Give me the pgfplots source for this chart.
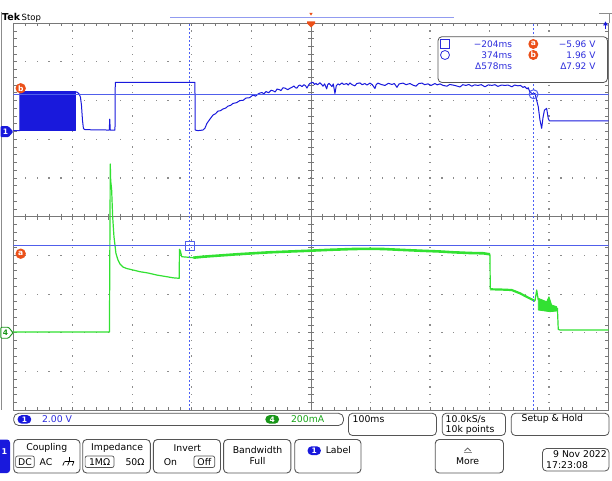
\documentclass[border=0pt]{standalone}
\usepackage{pgfplots}
\pgfplotsset{compat=1.18}
\usepackage{fontspec}
\setmainfont{DejaVu Sans}
\newcommand{\fs}[1]{\fontsize{#1}{#1}\selectfont}
\definecolor{tekblue}{RGB}{25,25,220}
\definecolor{cursblue}{RGB}{80,95,235}
\definecolor{cursdot}{RGB}{75,95,245}
\definecolor{txtblue}{RGB}{45,45,220}
\definecolor{tekgreen}{RGB}{50,225,50}
\definecolor{txtgreen}{RGB}{25,165,25}
\definecolor{pillgreen}{RGB}{25,150,25}
\definecolor{tekorange}{RGB}{235,80,25}
\definecolor{gridc}{RGB}{140,140,140}
\definecolor{borderc}{RGB}{120,120,120}
\definecolor{btnc}{RGB}{85,85,85}
\definecolor{barblue}{RGB}{145,155,240}
\begin{document}
\begin{tikzpicture}[x=1pt,y=1pt]
\useasboundingbox (0,0) rectangle (612,480);
\clip (0,0) rectangle (612,480);
\fill[white] (0,0) rectangle (612,480);
% ---------- graticule (pixel coordinates, y downwards)
\begin{scope}[shift={(0pt,480pt)},y=-1pt]
\foreach \k in {1,2,3,4,6,7,8,9} {
  \foreach \j in {0,...,50} {
    \fill[gridc] ({13.3+59.53*\k-0.6},{23.2+7.74*\j-0.6}) rectangle ++(1.2,1.2);
  }
  \foreach \j in {0,...,50} {
    \fill[gridc] ({13.3+11.906*\j-0.6},{23.2+38.7*\k-0.6}) rectangle ++(1.2,1.2);
  }
}
\draw[borderc, line width=0.8pt] (311,23.2) -- (311,410.2);
\draw[borderc, line width=0.8pt] (13.3,216.7) -- (608.6,216.7);
\foreach \j in {1,...,49} {
  \draw[borderc, line width=0.8pt] (308,{23.2+7.74*\j}) -- (314,{23.2+7.74*\j});
  \draw[borderc, line width=0.8pt] ({13.3+11.906*\j},213.7) -- ({13.3+11.906*\j},219.7);
  \draw[borderc, line width=0.8pt] (13.3,{23.2+7.74*\j}) -- (16.5,{23.2+7.74*\j});
  \draw[borderc, line width=0.8pt] (608.6,{23.2+7.74*\j}) -- (605.4,{23.2+7.74*\j});
  \draw[borderc, line width=0.8pt] ({13.3+11.906*\j},23.2) -- ({13.3+11.906*\j},26.4);
  \draw[borderc, line width=0.8pt] ({13.3+11.906*\j},410.2) -- ({13.3+11.906*\j},407);
}
\draw[borderc, line width=0.8pt] (13.3,23.2) rectangle (608.6,410.2);
\end{scope}
% ---------- channel 4 (mA)
\begin{axis}[at={(13.3pt,69.8pt)}, anchor=south west, scale only axis,
  width=595.3pt, height=387pt, hide axis,
  xmin=-500, xmax=500, ymin=-408.35, ymax=1612.5,
  every axis plot/.append style={line join=round, mark=none}]
\addplot[tekgreen, line width=1.2pt] coordinates {
(-500,0)(-338.5,0)(-337.1,877.3)(-336.4,790)(-335.6,767.6)(-334.8,741.5)(-333.1,602.1)
(-330.9,497.6)(-327.6,410.9)(-324.2,376)(-320.8,355.1)(-315.8,339.4)(-309.6,331.6)
(-299,323.8)(-287.2,314.9)(-273.8,308.1)(-259.2,297.6)(-242.4,288.8)(-231.8,283)
(-221.3,280.4)(-220.9,431.8)(-219.2,423)(-217.2,393.2)(-197.7,388)};
\addplot[tekgreen, line width=2.6pt] coordinates {
(-197.7,388)(-180.9,393.2)(-152.9,399.5)(-124.8,405.7)(-97.4,411)(-68.9,416.2)
(-35.3,420.4)(-1.7,424.5)(31.9,429.2)(71.1,433.4)(99.1,434.5)(121.4,433.4)
(149.5,429.2)(183.1,424.5)(216.7,420.4)(239,416.2)(267.1,412.5)(289.4,411)(300.7,405.7)};
\addplot[tekgreen, line width=1.2pt] coordinates {(300.7,405.7)(301.2,223)};
\addplot[tekgreen, line width=2.2pt] coordinates {
(301.2,223)(317.5,221.9)(337.1,219.3)(351.1,202.1)(364.5,180.2)(376.3,161.9)};
\addplot[tekgreen, line width=1.2pt] coordinates {(376.3,161.9)(379.2,219.3)(381.8,167.1)};
\addplot[tekgreen, fill=tekgreen, line width=0.8pt] coordinates {
(381.8,176)(395.9,158.2)(399.8,184.3)(404.3,141)(412.7,132.1)(412.7,109.7)(401.5,106)(381.8,114.9)(381.8,176)};
\addplot[tekgreen, line width=1.2pt] coordinates {
(412.7,120)(414,123.8)(415.4,14.1)(418.3,10.4)(500,10.4)};
\end{axis}
% ---------- channel 1 (V) and cursors
\begin{axis}[at={(13.3pt,69.8pt)}, anchor=south west, scale only axis,
  width=595.3pt, height=387pt, hide axis,
  xmin=-500, xmax=500, ymin=-14.54, ymax=5.67,
  every axis plot/.append style={line join=round, mark=none}]
\addplot[tekblue, fill=tekblue, line width=0.6pt] coordinates {
(-488.8,0.09)(-488.8,2.09)(-396.4,2.09)(-396.4,0.09)(-488.8,0.09)};
\addplot[tekblue, line width=1pt] coordinates {
(-500,0.06)(-488.8,0.06)(-488.8,2.09)(-396.4,2.09)(-393.1,2.07)(-389.7,1.99)(-387.2,1.81)
(-385.5,1.39)(-383.8,0.61)(-382.2,0.17)(-379.6,0.11)(-338.8,0.09)(-338,0.66)(-337.1,0.09)
(-329.2,0.09)(-328.7,2.58)(-194.9,2.58)(-194.4,0.09)(-189.8,0.06)(-181.4,0.09)(-178.1,0.19)
(-174.7,0.44)(-169.7,0.66)(-164.6,0.87)(-160,0.95)(-156.2,1.08)(-152,1.10)(-147.8,1.19)(-143,1.24)(-139.4,1.34)
(-135,1.38)(-131,1.48)(-125,1.52)(-119.3,1.63)(-114,1.64)(-109.2,1.76)(-103,1.78)(-97.4,1.92)(-93,1.86)(-89,1.97)
(-86,2.02)(-82.3,2.05)(-79,1.98)(-75.6,2.10)(-71,2.04)(-67,2.17)(-63.8,2.14)(-60,2.08)(-57.1,2.23)
(-53,2.20)(-50.4,2.15)(-47,2.30)(-43.7,2.28)(-39,2.20)(-35.3,2.27)(-31,2.34)(-28.6,2.39)(-26,2.30)(-23.5,2.28)
(-21,2.40)(-18.5,2.44)(-15,2.36)(-11.8,2.46)(-9,2.40)(-6.7,2.28)(-4,2.44)(-1.7,2.53)
(3.4,2.58)(6,2.47)(8.4,2.53)(11,2.45)(15.1,2.56)(18,2.47)(20.2,2.38)(23,2.50)(26.4,2.24)
(28,2.45)(30.2,2.53)(33,2.44)(35.3,2.36)(37.5,2.50)(40.3,2.00)(42.5,2.40)(45.4,2.50)(48,2.45)
(52.1,2.55)(55,2.47)(60,2.52)(62.5,2.44)(65.5,2.55)(69,2.46)(73.9,2.40)(77,2.52)(82.3,2.55)
(86,2.46)(90.7,2.52)(94,2.44)(99.1,2.54)(103,2.46)(107.5,2.26)(109.5,2.46)(112.5,2.54)(118,2.47)
(124.3,2.42)(130,2.53)(136.1,2.47)(140,2.52)(144.5,2.32)(148,2.50)(154.5,2.54)(160,2.46)
(166.3,2.52)(171,2.44)(176.4,2.38)(181,2.52)(186.5,2.54)(191,2.46)(196.5,2.50)(202,2.42)
(208.3,2.52)(212,2.45)(216.7,2.50)(222,2.42)(228.5,2.38)(233,2.47)(238.5,2.44)(244,2.40)
(250.3,2.34)(255,2.46)(260.4,2.42)(265,2.47)(270.4,2.38)(275,2.45)(280.5,2.42)(286,2.46)
(292.3,2.35)(298,2.45)(304,2.42)(309,2.46)(314.1,2.37)(320,2.44)(325.9,2.42)(331,2.44)
(337.6,2.35)(342,2.44)(347.7,2.40)(352,2.42)(356.1,2.32)(359,2.36)(362.8,2.24)(365,2.30)
(367.8,2.07)(372.9,1.97)(376.3,2.01)(381.8,1.31)(384.7,0.61)(387.5,0.18)(389.7,0.72)
(392.2,1.13)(395.9,1.22)(398.6,0.70)(400.6,0.57)(402.6,0.57)(500,0.57)};
% cursors
\addplot[cursblue, line width=1pt] coordinates {(-500,1.96)(500,1.96)};
\addplot[cursblue, line width=1pt] coordinates {(-500,-5.96)(500,-5.96)};
\addplot[cursdot, line width=1.4pt, dash pattern=on 2pt off 2pt] coordinates {(-204,-14.54)(-204,5.67)};
\addplot[cursdot, line width=1.4pt, dash pattern=on 2pt off 2pt] coordinates {(374,-14.54)(374,5.67)};
\addplot[cursblue, only marks, mark=square, mark size=4.5pt, line width=1pt] coordinates {(-204,-5.96)};
\addplot[cursblue, only marks, mark=o, mark size=4.5pt, line width=1pt] coordinates {(374,1.96)};
\end{axis}
% ---------- screen decorations (pixel coordinates)
\begin{scope}[shift={(0pt,480pt)},y=-1pt]
\draw[gridc, line width=0.8pt] (1.5,12) -- (1.5,410);
\draw[gridc, line width=0.8pt] (599,13.3) -- (612,13.3);
\draw[gridc, line width=0.8pt] (609.8,13.3) -- (609.8,23.2);
\node[anchor=west, inner sep=0pt] at (2,17.3) {{\fs{9.5}\bfseries Tek}\hspace{1.5pt}{\fs{8.5}Stop}};
\draw[barblue, line width=1.3pt] (170,17.3) -- (453.5,17.3);
\fill[tekorange] (309.3,12.8) -- (312.7,12.8) -- (311,15.6) -- cycle;
\fill[tekorange] (307,21.5) -- (315,21.5) -- (315,23.5) -- (311,27.5) -- (307,23.5) -- cycle;
\draw[tekblue, line width=0.8pt] (605.5,29.5) -- (605.5,25);
\fill[tekblue] (603,25.5) -- (608,25.5) -- (605.5,21.5) -- cycle;
% channel markers
\fill[tekblue, rounded corners=1pt] (0.5,126.2) -- (8.5,126.2) -- (13.3,131.7) -- (8.5,137.2) -- (0.5,137.2) -- cycle;
\node[white, font={\fs{7.5}\bfseries}, inner sep=0pt] at (5.5,131.7) {1};
\draw[pillgreen, fill=white, line width=0.9pt, rounded corners=1pt] (0.8,327.2) -- (8.5,327.2) -- (13,332.7) -- (8.5,338.2) -- (0.8,338.2) -- cycle;
\node[pillgreen, font={\fs{7.5}\bfseries}, inner sep=0pt] at (5.5,332.7) {4};
\fill[tekorange] (20.7,88.3) circle (5.2pt);
\node[white, font={\fs{7.5}\bfseries}, inner sep=0pt] at (20.7,88.3) {b};
\fill[tekorange] (20.7,253.7) circle (5.2pt);
\node[white, font={\fs{7.5}\bfseries}, inner sep=0pt] at (20.7,253.3) {a};
% measurement readout
\draw[btnc, fill=white, rounded corners=4pt, line width=0.8pt] (438,36.7) rectangle (607.5,82.5);
\draw[txtblue, line width=0.8pt] (440.5,39.5) rectangle (449.5,48.5);
\draw[txtblue, line width=0.8pt] (445,55) circle (4.5pt);
\node[anchor=east, txtblue, font=\fs{9}] at (515.5,44) {−204ms};
\node[anchor=east, txtblue, font=\fs{9}] at (515.5,55) {374ms};
\node[anchor=east, txtblue, font=\fs{9}] at (515.5,66) {Δ578ms};
\fill[tekorange] (533.3,44) circle (5pt);
\node[white, font={\fs{7.5}\bfseries}, inner sep=0pt] at (533.3,43.7) {a};
\fill[tekorange] (533.3,55) circle (5pt);
\node[white, font={\fs{7.5}\bfseries}, inner sep=0pt] at (533.3,55) {b};
\node[anchor=east, txtblue, font=\fs{9}] at (599,44) {−5.96 V};
\node[anchor=east, txtblue, font=\fs{9}] at (599,55) {1.96 V};
\node[anchor=east, txtblue, font=\fs{9}] at (599,66) {Δ7.92 V};
% status bar
\draw[btnc, rounded corners=5pt, line width=0.8pt] (13.7,413.3) rectangle (343.5,425.5);
\fill[tekblue, rounded corners=4pt] (17.6,415.2) rectangle (31.2,423.6);
\node[white, font={\fs{7.5}\bfseries}, inner sep=0pt] at (24.4,419.4) {1};
\node[anchor=west, txtblue, font=\fs{9.3}, inner sep=0pt] at (41.8,419.4) {2.00 V};
\fill[pillgreen, rounded corners=4pt] (265.4,415.2) rectangle (279,423.6);
\node[white, font={\fs{7.5}\bfseries}, inner sep=0pt] at (272.2,419.4) {4};
\node[anchor=west, txtgreen, font=\fs{9.3}, inner sep=0pt] at (290.8,419.4) {200mA};
\draw[btnc, rounded corners=4pt, line width=0.8pt] (348.5,413.3) rectangle (436.4,435.5);
\node[anchor=west, font=\fs{9.3}, inner sep=0pt] at (352.5,419.4) {100ms};
\draw[btnc, rounded corners=4pt, line width=0.8pt] (442.2,413.3) rectangle (505.5,435.5);
\node[anchor=west, font=\fs{9.3}, inner sep=0pt] at (445.5,419.4) {10.0kS/s};
\node[anchor=west, font=\fs{9.3}, inner sep=0pt] at (445.5,430) {10k points};
\draw[btnc, rounded corners=4pt, line width=0.8pt] (511.3,413.3) rectangle (609,435.5);
\node[anchor=west, font=\fs{9.3}, inner sep=0pt] at (521.5,419.4) {Setup \& Hold};
% button row
\fill[tekblue, rounded corners=3pt] (-4,439.5) rectangle (10,473);
\node[white, font={\fs{8}\bfseries}, inner sep=0pt] at (4.5,452) {1};
\foreach \a/\b in {13.7/80, 82.7/150.3, 153.4/220.5, 223.6/290.8, 294.7/361, 435.2/503.5} {
  \draw[btnc, rounded corners=4pt, line width=0.9pt] (\a,439.5) rectangle (\b,473);
}
\node[font=\fs{9.3}, inner sep=0pt] at (46.8,448) {Coupling};
\draw[btnc, rounded corners=2pt, line width=0.7pt] (15.6,456) rectangle (34.3,467.5);
\node[font=\fs{9.3}, inner sep=0pt] at (25,462) {DC};
\node[font=\fs{9.3}, inner sep=0pt] at (46,462) {AC};
\draw[black, line width=0.7pt] (69.3,457) -- (69.3,461.5);
\draw[black, line width=0.7pt] (64.5,461.5) -- (74,461.5);
\draw[black, line width=0.7pt] (64.5,461.5) -- (62.8,465.5);
\draw[black, line width=0.7pt] (69.3,461.5) -- (67.6,465.5);
\draw[black, line width=0.7pt] (74,461.5) -- (72.3,465.5);
\node[font=\fs{9.3}, inner sep=0pt] at (117.1,448) {Impedance};
\draw[btnc, rounded corners=2pt, line width=0.7pt] (85.1,456) rectangle (114,467.5);
\node[font=\fs{9.3}, inner sep=0pt] at (99.6,462) {1MΩ};
\node[font=\fs{9.3}, inner sep=0pt] at (135,462) {50Ω};
\node[font=\fs{9.3}, inner sep=0pt] at (187.4,448) {Invert};
\node[font=\fs{9.3}, inner sep=0pt] at (170.4,462) {On};
\draw[btnc, rounded corners=2pt, line width=0.7pt] (194,456) rectangle (214.7,467.5);
\node[font=\fs{9.3}, inner sep=0pt] at (204.3,462) {Off};
\node[font=\fs{9.3}, inner sep=0pt] at (257.6,450.5) {Bandwidth};
\node[font=\fs{9.3}, inner sep=0pt] at (257.6,461.5) {Full};
\fill[tekblue, rounded corners=4pt] (307.6,446.3) rectangle (320.8,455);
\node[white, font={\fs{7.5}\bfseries}, inner sep=0pt] at (314.2,450.6) {1};
\node[font=\fs{9.3}, inner sep=0pt] at (338.3,450.5) {Label};
\draw[btnc, line width=0.7pt] (464.5,451) -- (467.6,448) -- (470.7,451);
\draw[gridc, line width=0.6pt] (463.5,452.5) -- (471.7,452.5);
\node[font=\fs{9.3}, inner sep=0pt] at (467.6,461.5) {More};
\draw[btnc, rounded corners=4pt, line width=0.8pt] (542.5,448.5) rectangle (609,471);
\node[anchor=east, font=\fs{9.3}, inner sep=0pt] at (607,454.5) {9 Nov 2022};
\node[anchor=west, font=\fs{9.3}, inner sep=0pt] at (546,465.5) {17:23:08};
\end{scope}
\end{tikzpicture}
\end{document}
